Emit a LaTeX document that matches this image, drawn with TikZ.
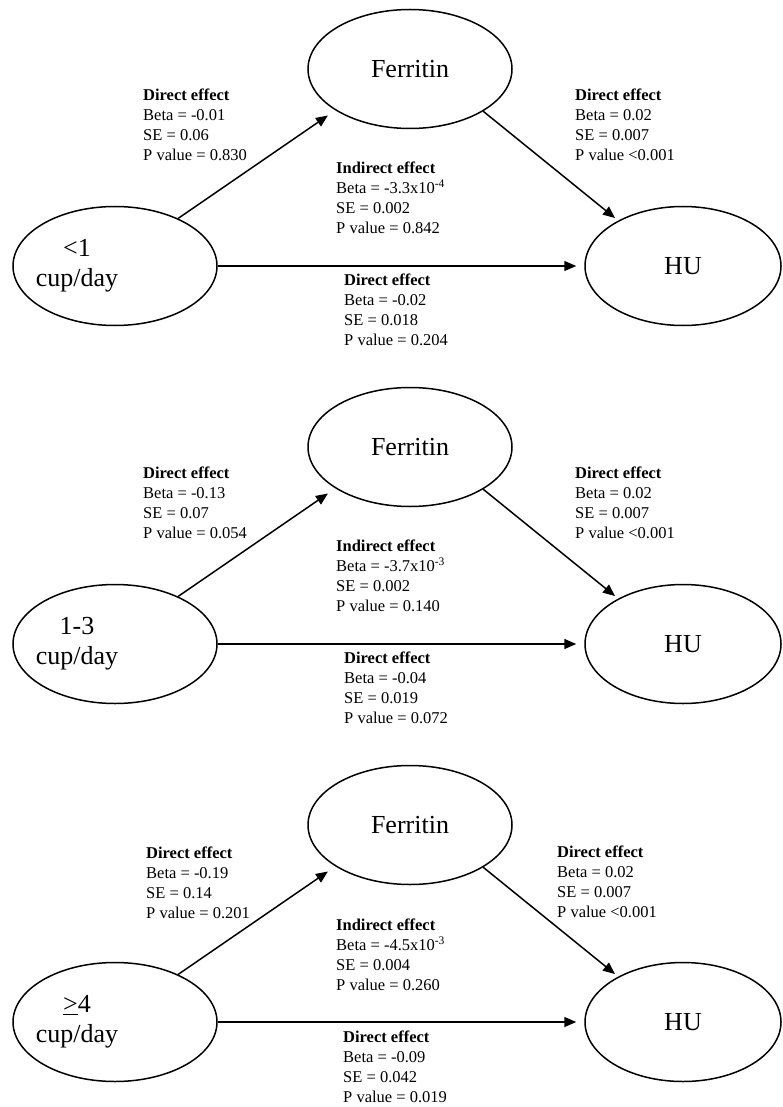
\documentclass[tikz,border=0pt]{standalone}
\usepackage{fontspec}
\setmainfont{Liberation Serif}
\usetikzlibrary{arrows.meta,positioning,shapes.geometric}

\begin{document}
\begin{tikzpicture}[
            x=1pt, y=-1pt,
            ell/.style={
                draw, ellipse, line width=1.5pt,
                minimum width=204pt, minimum height=119pt, inner sep=0pt,
                font=\fontsize{26}{30}\selectfont
            },
            huell/.style={ell, minimum width=196pt},
            cuptext/.style={align=center, inner sep=0pt, font=\fontsize{26}{30}\selectfont},
            stat/.style={align=left, anchor=north west, inner sep=0pt, font=\fontsize{16.5}{20}\selectfont},
            arr/.style={-{Triangle[length=12pt,width=10pt]}, line width=1.5pt}
        ]
        \useasboundingbox (0,0) rectangle (782,1107);

        % <1 cup/day
        \node[ell] (cup1) at (115,266) {};
        \node[cuptext] (cup1t) at ([xshift=-38pt]cup1.center) {<1\\cup/day};
        \node[ell] (fer1) at (410,69) {Ferritin};
        \node[huell] (hu1) at (683,266) {HU};
        \draw[arr, shorten >=9pt] (cup1.37) -- (fer1.209);
        \draw[arr, shorten >=4pt] (fer1.-30) -- (hu1.145);
        \draw[arr, shorten >=8pt] (cup1.east) -- (hu1.west);
        \node[stat] (a1) at (143,89) {\textbf{Direct effect}\\Beta = -0.01\\SE = 0.06\\P value = 0.830};
        \node[stat] (b1) at (575,89) {\textbf{Direct effect}\\Beta = 0.02\\SE = 0.007\\P value <0.001};
        \node[stat] (ind1) at (336,162) {\textbf{Indirect effect}\\Beta = -3.3x10\textsuperscript{-4}\\SE = 0.002\\P value = 0.842};
        \node[stat] (c1) at (344,274) {\textbf{Direct effect}\\Beta = -0.02\\SE = 0.018\\P value = 0.204};

        % 1-3 cup/day
        \node[ell] (cup2) at (115,644) {};
        \node[cuptext] (cup2t) at ([xshift=-38pt]cup2.center) {1-3\\cup/day};
        \node[ell] (fer2) at (410,447) {Ferritin};
        \node[huell] (hu2) at (683,644) {HU};
        \draw[arr, shorten >=9pt] (cup2.37) -- (fer2.209);
        \draw[arr, shorten >=4pt] (fer2.-30) -- (hu2.145);
        \draw[arr, shorten >=8pt] (cup2.east) -- (hu2.west);
        \node[stat] (a2) at (143,467) {\textbf{Direct effect}\\Beta = -0.13\\SE = 0.07\\P value = 0.054};
        \node[stat] (b2) at (575,467) {\textbf{Direct effect}\\Beta = 0.02\\SE = 0.007\\P value <0.001};
        \node[stat] (ind2) at (336,540) {\textbf{Indirect effect}\\Beta = -3.7x10\textsuperscript{-3}\\SE = 0.002\\P value = 0.140};
        \node[stat] (c2) at (344,652) {\textbf{Direct effect}\\Beta = -0.04\\SE = 0.019\\P value = 0.072};

        % >=4 cup/day
        \node[ell] (cup3) at (115,1022) {};
        \node[cuptext] (cup3t) at ([xshift=-38pt]cup3.center) {\underline{>}4\\cup/day};
        \node[ell] (fer3) at (410,825) {Ferritin};
        \node[huell] (hu3) at (683,1022) {HU};
        \draw[arr, shorten >=9pt] (cup3.37) -- (fer3.209);
        \draw[arr, shorten >=4pt] (fer3.-30) -- (hu3.145);
        \draw[arr, shorten >=8pt] (cup3.east) -- (hu3.west);
        \node[stat] (a3) at (146,847) {\textbf{Direct effect}\\Beta = -0.19\\SE = 0.14\\P value = 0.201};
        \node[stat] (b3) at (557,846) {\textbf{Direct effect}\\Beta = 0.02\\SE = 0.007\\P value <0.001};
        \node[stat] (ind3) at (336,919) {\textbf{Indirect effect}\\Beta = -4.5x10\textsuperscript{-3}\\SE = 0.004\\P value = 0.260};
        \node[stat] (c3) at (343,1031) {\textbf{Direct effect}\\Beta = -0.09\\SE = 0.042\\P value = 0.019};
        \end{tikzpicture}
\end{document}
